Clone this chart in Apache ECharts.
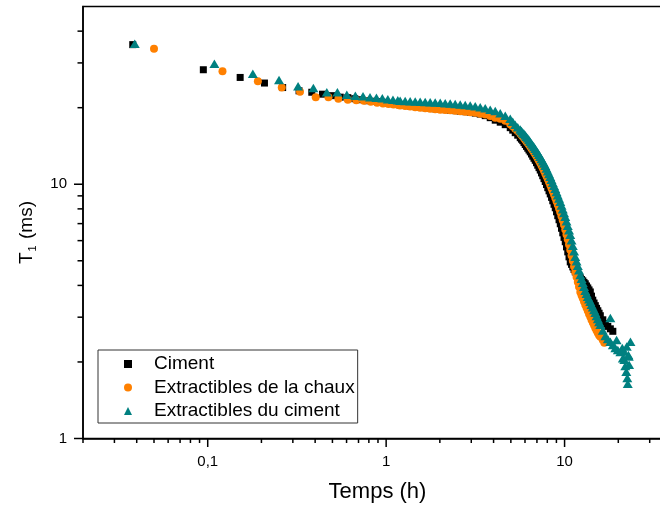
<!DOCTYPE html>
<html><head><meta charset="utf-8">
<script src="https://cdn.jsdelivr.net/npm/echarts@6/dist/echarts.min.js"></script>
<style>html,body{margin:0;padding:0;background:#fff}#c{width:660px;height:508px}</style>
</head><body><div id="c"></div>
<script>
// ---------- DATA ----------
const seriesNames = ['Ciment', 'Extractibles de la chaux', 'Extractibles du ciment'];

const cimentTime = [0.038,0.0945,0.152,0.208,0.263,0.325,0.383,0.44,0.497,0.553,0.61,0.667,0.724,0.781,0.838,0.895,0.952,1.009,1.066,1.123,
  1.198,1.278,1.363,1.455,1.551,1.655,1.765,1.883,2.009,2.143,2.285,2.438,2.600,2.774,2.959,3.157,3.367,3.592,3.831,4.087,
  4.359,4.650,4.960,5.123,5.290,5.464,5.643,5.830,6.020,6.218,6.421,6.631,6.849,7.074,7.306,7.545,7.794,8.050,8.313,8.587,
  8.868,9.158,9.461,9.770,10.09,10.42,10.76,11.12,11.48,11.86,12.25,12.65,13.06,13.49,13.94,14.39,14.87,15.36,15.86,16.38,
  16.92,17.47,18.05,18.64];
const cimentT1 = [35.4,28.2,26.3,25.0,24.0,23.3,23.0,22.6,22.3,22.0,21.9,21.7,21.5,21.3,21.2,21.1,21.0,20.8,20.75,20.6,
  20.5,20.4,20.3,20.2,20.1,20.0,19.9,19.8,19.7,19.65,19.55,19.47,19.38,19.29,19.21,19.04,18.87,18.61,18.27,17.86,
  17.54,17.15,16.69,16.32,15.95,15.59,15.24,14.84,14.33,13.86,13.41,12.89,12.42,11.88,11.37,10.80,10.25,9.69,9.16,8.61,
  8.08,7.52,6.99,6.44,5.94,5.42,4.95,4.73,4.52,4.40,4.28,4.17,4.06,3.91,3.77,3.50,3.33,3.18,3.04,2.93,
  2.83,2.76,2.70,2.64];

const chauxTime = [0.050,0.121,0.191,0.260,0.329,0.403,0.475,0.540,0.61,0.68,0.75,0.82,0.89,0.96,1.03,1.10,1.17,
  1.198,1.278,1.363,1.455,1.551,1.655,1.765,1.883,2.009,2.143,2.285,2.438,2.600,2.774,2.959,3.157,3.367,3.592,3.831,4.087,
  4.359,4.650,4.960,5.123,5.290,5.464,5.643,5.830,6.020,6.218,6.421,6.631,6.849,7.074,7.306,7.545,7.794,8.050,8.313,8.587,
  8.868,9.158,9.461,9.770,10.09,10.42,10.76,11.12,11.48,11.86,12.25,12.65,13.06,13.49,13.94,14.39,14.87,15.36,15.86,16.38,16.7];
const chauxT1 = [34.1,27.8,25.4,24.0,23.1,22.0,22.0,21.7,21.5,21.4,21.3,21.1,20.9,20.75,20.7,20.6,20.5,
  20.4,20.3,20.2,20.1,20.0,19.9,19.8,19.7,19.65,19.57,19.52,19.45,19.38,19.29,19.21,19.09,18.95,18.8,18.53,18.27,
  18.11,17.78,17.23,16.89,16.54,16.19,15.83,15.41,14.97,14.52,14.06,13.59,13.12,12.63,12.12,11.58,11.03,10.48,9.92,9.38,
  8.84,8.31,7.76,7.22,6.64,6.07,5.52,5.00,4.52,4.13,3.77,3.56,3.36,3.18,3.01,2.86,2.72,2.60,2.51,2.44,2.38];

const extCimentTime = [0.039,0.109,0.179,0.251,0.321,0.391,0.465,0.533,0.602,0.672,0.742,0.812,0.882,0.952,1.022,1.092,1.162,
  1.198,1.278,1.363,1.455,1.551,1.655,1.765,1.883,2.009,2.143,2.285,2.438,2.600,2.774,2.959,3.157,3.367,3.592,3.831,4.087,
  4.359,4.650,4.960,5.123,5.290,5.464,5.643,5.830,6.020,6.218,6.421,6.631,6.849,7.074,7.306,7.545,7.794,8.050,8.313,8.587,
  8.868,9.158,9.461,9.770,10.09,10.42,10.76,11.12,11.48,11.86,12.25,12.65,13.06,13.49,13.94,14.39,14.87,15.36,15.86,16.38,
  16.92,17.47,18.05,18.64,19.25,19.88,20.54,21.21,21.90,22.47,
  18.05,19.57,21.06,21.5,21.62,22.18,22.3,22.6,22.77,22.9,23.0,23.4];
const extCimentT1 = [35.7,29.8,27.2,25.7,24.3,23.9,23.0,23.0,22.5,22.3,22.2,22.0,21.9,21.8,21.6,21.5,21.4,
  21.3,21.25,21.2,21.15,21.1,21.05,21.0,20.95,20.9,20.8,20.75,20.7,20.6,20.5,20.4,20.25,20.1,19.9,19.65,19.4,
  19.0,18.6,18.1,17.62,17.15,16.77,16.4,15.99,15.59,15.15,14.70,14.24,13.80,13.31,12.83,12.32,11.83,11.25,10.70,10.14,
  9.60,9.05,8.53,7.97,7.45,6.86,6.33,5.73,5.18,4.78,4.40,4.10,3.81,3.61,3.45,3.28,3.12,2.95,2.80,2.66,
  2.53,2.46,2.40,2.33,2.27,2.23,2.19,2.07,1.93,1.73,
  2.98,2.44,2.27,2.2,2.04,1.83,2.3,1.64,2.13,2.10,1.95,2.40];

// extra readings in the steep, densely sampled part of the curves (hours)
const steepTime = [5.735,5.924,6.118,6.319,6.527,6.741,6.962,7.191,7.427,7.671,7.922,8.182,8.451,8.728,9.015,9.311,
  9.614,9.929,10.25,10.59,10.94,11.30,11.67,12.05,12.45,12.85,13.28,13.71,14.16,14.63,15.11,15.61];
const cimentSteepT1 = [15.04,14.58,14.09,13.63,13.15,12.65,12.15,11.62,11.08,10.52,9.97,9.42,8.88,8.34,7.79,7.25,
  6.71,6.18,5.67,5.18,4.84,4.62,4.46,4.34,4.22,4.11,3.98,3.84,3.63,3.41,3.25,3.11];
const chauxSteepT1 = [15.62,15.19,14.74,14.29,13.82,13.35,12.87,12.37,11.85,11.30,10.75,10.20,9.65,9.11,8.57,8.03,
  7.49,6.93,6.35,5.79,5.25,4.75,4.32,3.95,3.66,3.46,3.27,3.09,2.93,2.79,2.66,2.55];
const extCimentSteepT1 = [16.19,15.79,15.37,14.92,14.47,14.02,13.55,13.07,12.57,12.07,11.54,10.97,10.42,9.87,9.32,8.79,
  8.25,7.71,7.15,6.59,6.02,5.45,4.98,4.59,4.25,3.95,3.71,3.53,3.36,3.20,3.03,2.87];

const xMajorTicks = [0.1, 1, 10];
const xMinorTicks = [0.02,0.03,0.04,0.05,0.06,0.07,0.08,0.09,0.2,0.3,0.4,0.5,0.6,0.7,0.8,0.9,2,3,4,5,6,7,8,9,20,30];
const yMajorTicks = [1, 10];
const yMinorTicks = [2,3,4,5,6,7,8,9,20,30,40];
const X_MIN = 0.02, X_MAX = 40, Y_MIN = 1, Y_MAX = 50;

// ---------- CHART ----------
const FONT = '"Liberation Sans", Arial, sans-serif';
const pairs = (t, v) => t.map((x, i) => [x, v[i]]);
function isIn(list, v) { return list.some(m => Math.abs(Math.log10(m) - Math.log10(v)) < 1e-6); }
function fmt(list) {
  return function (v) {
    if (!isIn(list, v)) return '';
    const e = Math.round(Math.log10(v));
    const s = e < 0 ? Math.pow(10, e).toFixed(-e) : String(Math.round(Math.pow(10, e)));
    return s.replace('.', ',');
  };
}
function tickSeries(values, dir, len) {
  return {
    type: 'custom', silent: true, clip: false, z: 4,
    data: values.map(v => dir === 'x' ? [v, Y_MIN] : [X_MIN, v]),
    renderItem: function (params, api) {
      const p = api.coord([api.value(0), api.value(1)]);
      const shape = dir === 'x'
        ? { x1: p[0], y1: p[1], x2: p[0], y2: p[1] + len }
        : { x1: p[0], y1: p[1], x2: p[0] - len, y2: p[1] };
      return { type: 'line', shape: shape, style: { stroke: '#000', lineWidth: 1.5 } };
    }
  };
}

const chart = echarts.init(document.getElementById('c'), null, { renderer: 'canvas' });
chart.setOption({
  animation: false,
  backgroundColor: '#fff',
  textStyle: { fontFamily: FONT },
  grid: { left: 83, top: 6.5, width: 589, height: 432, outerBoundsMode: 'none', containLabel: false,
          show: true, borderColor: '#000', borderWidth: 1.5, backgroundColor: 'transparent' },
  legend: {
    data: seriesNames, orient: 'vertical', left: 98, top: 350, selectedMode: false,
    padding: [4, 3, 2, 26], itemGap: 3.5, itemWidth: 8, itemHeight: 8,
    borderColor: '#333', borderWidth: 1, backgroundColor: '#fff',
    textStyle: { fontSize: 19, lineHeight: 20, color: '#000', fontFamily: FONT, padding: [0, 0, 0, 17] }
  },
  xAxis: {
    type: 'log', logBase: 10, min: X_MIN, max: X_MAX,
    axisLine: { show: true, lineStyle: { color: '#000', width: 1.5 } },
    axisTick: { show: false }, splitLine: { show: false }, minorTick: { show: false },
    axisLabel: { formatter: fmt(xMajorTicks), color: '#000', fontSize: 15, margin: 16, fontFamily: FONT },
    name: 'Temps (h)', nameLocation: 'middle', nameGap: 42,
    nameTextStyle: { fontSize: 22, color: '#000', fontFamily: FONT }
  },
  yAxis: {
    type: 'log', logBase: 10, min: Y_MIN, max: Y_MAX,
    axisLine: { show: true, lineStyle: { color: '#000', width: 1.5 } },
    axisTick: { show: false }, splitLine: { show: false }, minorTick: { show: false },
    axisLabel: { formatter: fmt(yMajorTicks), color: '#000', fontSize: 15, margin: 16, fontFamily: FONT },
    name: '{t|T}{s|1}{t| (ms)}', nameLocation: 'middle', nameGap: 45,
    nameTextStyle: {
      color: '#000', padding: [0, 20, 0, 0],
      rich: {
        t: { fontSize: 19, color: '#000', fontFamily: FONT },
        s: { fontSize: 11, color: '#000', fontFamily: FONT, padding: [12, 1, 0, 1] }
      }
    }
  },
  series: [
    { name: seriesNames[0], type: 'scatter', symbol: 'rect', symbolSize: 7, itemStyle: { color: '#000000', opacity: 1 },
      data: pairs(cimentTime, cimentT1).concat(pairs(steepTime, cimentSteepT1)) },
    { name: seriesNames[1], type: 'scatter', symbol: 'circle', symbolSize: 8, itemStyle: { color: '#FF8000', opacity: 1 },
      data: pairs(chauxTime, chauxT1).concat(pairs(steepTime, chauxSteepT1)) },
    { name: seriesNames[2], type: 'scatter', symbol: 'triangle', symbolSize: [10, 8.5], itemStyle: { color: '#008080', opacity: 1 },
      data: pairs(extCimentTime, extCimentT1).concat(pairs(steepTime, extCimentSteepT1)) },
    tickSeries(xMajorTicks, 'x', 8.5),
    tickSeries(xMinorTicks, 'x', 4.5),
    tickSeries(yMajorTicks, 'y', 9),
    tickSeries(yMinorTicks, 'y', 5.5)
  ]
});
</script>
</body></html>
